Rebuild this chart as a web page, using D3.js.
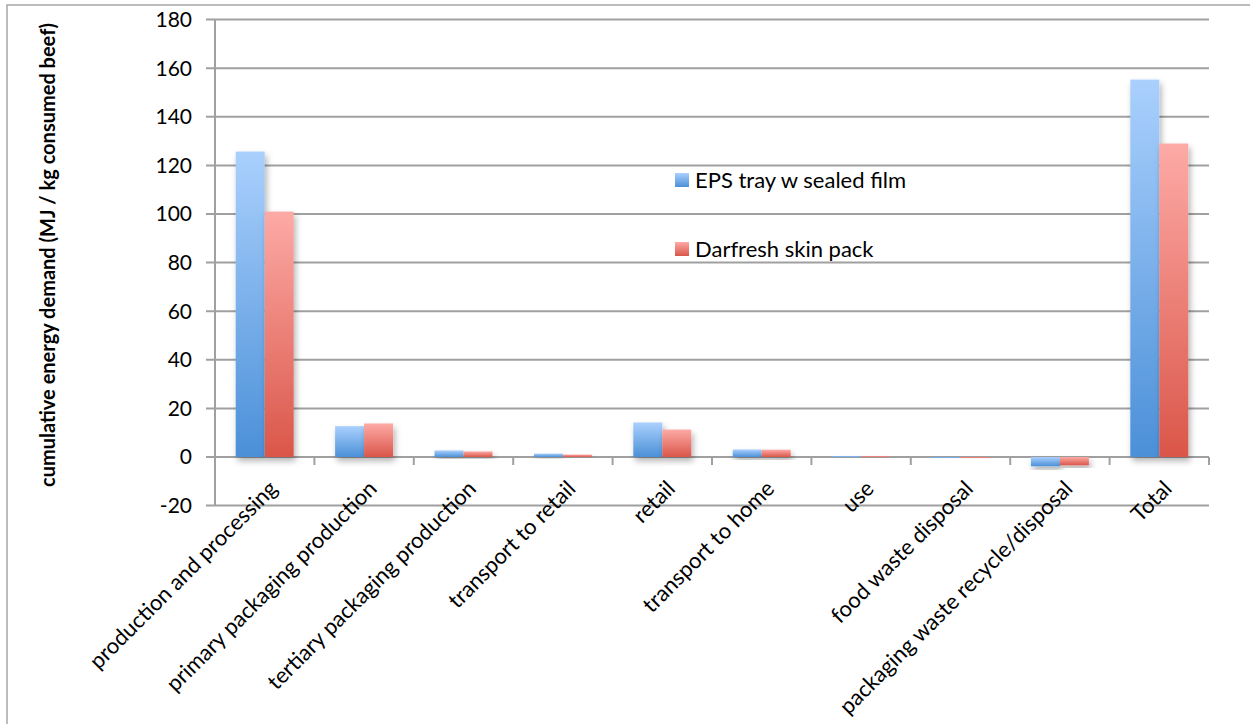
<!DOCTYPE html>
<html>
<head>
<meta charset="utf-8">
<script src="https://cdn.jsdelivr.net/npm/d3@7"></script>
<style>
  body { margin: 0; background: #fff; }
  text { font-family: Lato, "Open Sans", sans-serif; fill: #000; }
</style>
</head>
<body>
<div id="chart"></div>
<script>
// categories and series values
var categories = ["production and processing", "primary packaging production", "tertiary packaging production",
    "transport to retail", "retail", "transport to home", "use", "food waste disposal",
    "packaging waste recycle/disposal", "Total"];
var seriesNames = ["EPS tray w sealed film", "Darfresh skin pack"];
var epsValues = [125.7, 12.7, 2.7, 1.4, 14.2, 3.1, 0.4, -0.4, -3.8, 155.3];
var darfreshValues = [101.0, 13.8, 2.3, 1.0, 11.3, 3.0, 0.4, -0.4, -3.4, 129.0];
var yTicks = [-20, 0, 20, 40, 60, 80, 100, 120, 140, 160, 180];

var seriesColors = {
    "EPS tray w sealed film": {top: "#aad0fd", bottom: "#4b90d8"},
    "Darfresh skin pack": {top: "#fdaaa6", bottom: "#da5649"}
};

var width = 1250, height = 724;
var margin = {top: 20, right: 40, bottom: 218, left: 215};

var svg = d3.select("#chart").append("svg")
    .attr("width", width)
    .attr("height", height);

var defs = svg.append("defs");

seriesNames.forEach(function(name, i) {
    var grad = defs.append("linearGradient")
        .attr("id", "grad" + i)
        .attr("x1", 0).attr("y1", 0).attr("x2", 0).attr("y2", 1);
    grad.append("stop").attr("offset", "0%").attr("stop-color", seriesColors[name].top);
    grad.append("stop").attr("offset", "100%").attr("stop-color", seriesColors[name].bottom);
});

var shadow = defs.append("filter")
    .attr("id", "shadow")
    .attr("x", "-20%").attr("y", "-20%").attr("width", "150%").attr("height", "150%");
shadow.append("feDropShadow")
    .attr("dx", 2).attr("dy", 4)
    .attr("stdDeviation", 3)
    .attr("flood-color", "#000")
    .attr("flood-opacity", 0.3);

// outer frame
svg.append("rect")
    .attr("x", 7).attr("y", 5)
    .attr("width", width + 10).attr("height", height + 10)
    .attr("fill", "none")
    .attr("stroke", "#a6a6a6")
    .attr("stroke-width", 1.5);

var plotLeft = margin.left, plotRight = 1209;
var y = d3.scaleLinear().domain([-20, 180]).range([505.6, 19.6]);

var x0 = d3.scaleBand().domain(categories).range([plotLeft, plotRight]).padding(0);
var x1 = d3.scaleBand().domain(seriesNames).range([0, x0.bandwidth()])
    .paddingInner(0).paddingOuter(0.715);

// gridlines (with the little tick stubs left of the axis)
svg.append("g").selectAll("line.grid")
    .data(yTicks)
    .enter().append("line")
    .attr("class", "grid")
    .attr("x1", plotLeft - 9).attr("x2", plotRight)
    .attr("y1", function(d) { return y(d); })
    .attr("y2", function(d) { return y(d); })
    .attr("stroke", "#a0a0a0")
    .attr("stroke-width", 2);

// y tick labels
svg.append("g").selectAll("text")
    .data(yTicks)
    .enter().append("text")
    .attr("x", 192)
    .attr("y", function(d) { return y(d); })
    .attr("dy", "0.35em")
    .attr("text-anchor", "end")
    .style("font-size", "21px")
    .text(function(d) { return d; });

// value axis line
svg.append("line")
    .attr("x1", plotLeft).attr("x2", plotLeft)
    .attr("y1", y(180)).attr("y2", y(-20))
    .attr("stroke", "#a0a0a0")
    .attr("stroke-width", 2);

// category axis at zero with tick marks
svg.append("line")
    .attr("x1", plotLeft).attr("x2", plotRight)
    .attr("y1", y(0)).attr("y2", y(0))
    .attr("stroke", "#a0a0a0")
    .attr("stroke-width", 2);

var tickPositions = categories.map(function(c) { return x0(c); }).concat([plotRight]);
svg.append("g").selectAll("line")
    .data(tickPositions)
    .enter().append("line")
    .attr("x1", function(d) { return d; })
    .attr("x2", function(d) { return d; })
    .attr("y1", y(0)).attr("y2", y(0) + 8)
    .attr("stroke", "#a0a0a0")
    .attr("stroke-width", 2);

// bars
var rows = categories.map(function(c, i) {
    return {cat: c, values: [epsValues[i], darfreshValues[i]]};
});

var groups = svg.append("g").selectAll("g")
    .data(rows)
    .enter().append("g")
    .attr("transform", function(d) { return "translate(" + x0(d.cat) + ",0)"; });

groups.selectAll("rect")
    .data(function(d) {
        return d.values.map(function(v, i) { return {name: seriesNames[i], idx: i, value: v}; });
    })
    .enter().append("rect")
    .attr("x", function(d) { return x1(d.name); })
    .attr("width", x1.bandwidth())
    .attr("y", function(d) { return y(Math.max(0, d.value)); })
    .attr("height", function(d) { return Math.max(1, Math.abs(y(d.value) - y(0))); })
    .attr("fill", function(d) { return "url(#grad" + d.idx + ")"; })
    .attr("filter", "url(#shadow)");

// category labels, rotated
svg.append("g").selectAll("text")
    .data(categories)
    .enter().append("text")
    .attr("transform", function(d) {
        var cx = x0(d) + x0.bandwidth() / 2 + 14;
        return "translate(" + cx + ",490) rotate(-45)";
    })
    .attr("text-anchor", "end")
    .style("font-size", "22px")
    .text(function(d) { return d; });

// y axis title
svg.append("text")
    .attr("transform", "translate(55,255) rotate(-90)")
    .attr("text-anchor", "middle")
    .style("font-size", "20px")
    .style("font-weight", "bold")
    .text("cumulative energy demand (MJ / kg consumed beef)");

// legend
var legend = svg.append("g").selectAll("g")
    .data(seriesNames)
    .enter().append("g")
    .attr("transform", function(d, i) { return "translate(675," + (173 + i * 69) + ")"; });

legend.append("rect")
    .attr("width", 14).attr("height", 14)
    .attr("fill", function(d, i) { return "url(#grad" + i + ")"; });

legend.append("text")
    .attr("x", 20).attr("y", 7)
    .attr("dy", "0.35em")
    .style("font-size", "22px")
    .text(function(d) { return d; });
</script>
</body>
</html>
